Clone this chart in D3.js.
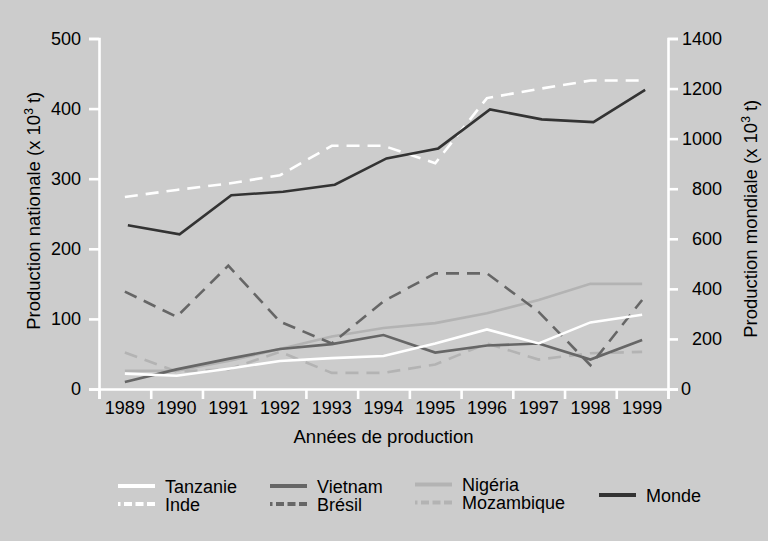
<!DOCTYPE html>
<html>
<head>
<meta charset="utf-8">
<script src="https://cdn.jsdelivr.net/npm/d3@7"></script>
<style>
  html, body { margin: 0; padding: 0; background: #cccccc; }
  svg { display: block; }
  text { font-family: "Liberation Sans", Arial, sans-serif; fill: #000; }
</style>
</head>
<body>
<svg id="chart"></svg>
<script>
// Chart size
const width = 768, height = 541;

// Data (x 10^3 t)
const years = ["1989", "1990", "1991", "1992", "1993", "1994", "1995", "1996", "1997", "1998", "1999"];
const tanzanie = [22, 19, 29, 40, 44, 47, 65, 85, 65, 95, 106];
const inde = [274, 284, 293, 305, 347, 347, 322, 415, 428, 440, 440];
const vietnam = [10, 28, 43, 57, 64, 77, 52, 62, 65, 42, 70];
const bresil = [139, 103, 176, 96, 65, 125, 165, 165, 110, 34, 127];
const nigeria = [26, 26, 40, 57, 75, 87, 94, 108, 127, 150, 150];
const mozambique = [52, 25, 28, 53, 23, 23, 35, 65, 42, 51, 53];
const monde = [654, 618, 774, 788, 816, 921, 961, 1117, 1077, 1066, 1195]; // right axis

const leftTicks = [0, 100, 200, 300, 400, 500];
const rightTicks = [0, 200, 400, 600, 800, 1000, 1200, 1400];

// Series table (drawing order)
const series = [
    { name: "Nigéria", values: nigeria, axis: "left", color: "#b3b3b3", dashed: false },
    { name: "Mozambique", values: mozambique, axis: "left", color: "#b3b3b3", dashed: true },
    { name: "Vietnam", values: vietnam, axis: "left", color: "#666666", dashed: false },
    { name: "Brésil", values: bresil, axis: "left", color: "#666666", dashed: true },
    { name: "Tanzanie", values: tanzanie, axis: "left", color: "#ffffff", dashed: false },
    { name: "Inde", values: inde, axis: "left", color: "#ffffff", dashed: true },
    { name: "Monde", values: monde, axis: "right", color: "#333333", dashed: false }
];

// Legend columns (names only)
const legendColumns = [["Tanzanie", "Inde"], ["Vietnam", "Brésil"], ["Nigéria", "Mozambique"], ["Monde"]];

const plotLeft = 99, plotRight = 668, plotTop = 38.5, plotBottom = 389;

const svg = d3.select("#chart")
    .attr("width", width)
    .attr("height", height);

svg.append("rect")
    .attr("width", width)
    .attr("height", height)
    .attr("fill", "#cccccc");

// Scales
const x = d3.scaleBand().domain(years).range([plotLeft, plotRight]);
const x2 = d3.scaleBand().domain(years).range([plotLeft + 3, plotRight + 3]); // world series sits a bit to the right
const xEdges = d3.scaleLinear().domain([0, years.length]).range([plotLeft, plotRight]);
const yL = d3.scaleLinear().domain([0, 500]).range([plotBottom, plotTop]);
const yR = d3.scaleLinear().domain([0, 1400]).range([plotBottom, plotTop]);

function styleAxis(g) {
    g.selectAll("path, line")
        .attr("stroke", "#ffffff")
        .attr("stroke-width", 2.6);
    g.selectAll("text")
        .attr("font-size", 18)
        .attr("fill", "#000");
}

// Left axis
svg.append("g")
    .attr("transform", `translate(${plotLeft},0)`)
    .call(d3.axisLeft(yL).tickValues(leftTicks).tickSize(10).tickPadding(8).tickFormat(d3.format("d")))
    .call(styleAxis);

// Right axis
const rightAxis = svg.append("g")
    .attr("transform", `translate(${plotRight},0)`)
    .call(d3.axisRight(yR).tickValues(rightTicks).tickSize(10).tickPadding(5).tickFormat(d3.format("d")))
    .call(styleAxis);
rightAxis.selectAll(".tick text")
    .attr("text-anchor", d => d === 0 ? "start" : "end")
    .attr("x", d => d === 0 ? 13 : 54);

// Bottom axis: ticks between the years, labels centered in each band
svg.append("g")
    .attr("transform", `translate(0,${plotBottom})`)
    .call(d3.axisBottom(xEdges).tickValues(d3.range(years.length + 1)).tickSize(10).tickFormat(""))
    .call(styleAxis);

svg.append("g")
    .attr("transform", `translate(0,${plotBottom})`)
    .call(d3.axisBottom(x).tickSize(0).tickPadding(12))
    .call(g => g.select(".domain").remove())
    .call(styleAxis);

// Axis titles
const leftTitle = svg.append("text")
    .attr("transform", `translate(40,${(plotTop + plotBottom) / 2 - 3}) rotate(-90)`)
    .attr("text-anchor", "middle")
    .attr("font-size", 18.5);
leftTitle.append("tspan").text("Production nationale (x 10");
leftTitle.append("tspan").attr("font-size", 12).attr("dy", -7).text("3");
leftTitle.append("tspan").attr("dy", 7).text(" t)");

const rightTitle = svg.append("text")
    .attr("transform", `translate(757,${(plotTop + plotBottom) / 2 + 5}) rotate(-90)`)
    .attr("text-anchor", "middle")
    .attr("font-size", 18.5);
rightTitle.append("tspan").text("Production mondiale (x 10");
rightTitle.append("tspan").attr("font-size", 12).attr("dy", -7).text("3");
rightTitle.append("tspan").attr("dy", 7).text(" t)");

svg.append("text")
    .attr("x", (plotLeft + plotRight) / 2)
    .attr("y", 443)
    .attr("text-anchor", "middle")
    .attr("font-size", 18.5)
    .text("Années de production");

// Lines
series.forEach(s => {
    const xs = s.axis === "right" ? x2 : x;
    const ys = s.axis === "right" ? yR : yL;
    const line = d3.line()
        .x((d, i) => xs(years[i]) + xs.bandwidth() / 2)
        .y(d => ys(d));
    svg.append("path")
        .datum(s.values)
        .attr("d", line)
        .attr("fill", "none")
        .attr("stroke", s.color)
        .attr("stroke-width", 2.6)
        .attr("stroke-linejoin", "miter")
        .attr("stroke-dasharray", s.dashed ? "13,8" : null);
});

// Legend
const legendX = [118, 270, 415, 599];
const legendRowY = [486, 504];
const legend = svg.append("g");
legendColumns.forEach((col, ci) => {
    col.forEach((name, ri) => {
        const s = series.find(d => d.name === name);
        let ly = col.length === 1 ? (legendRowY[0] + legendRowY[1]) / 2 : legendRowY[ri];
        if (ci === 2) ly -= 1.5;
        legend.append("line")
            .attr("x1", legendX[ci])
            .attr("x2", legendX[ci] + 37)
            .attr("y1", ly)
            .attr("y2", ly)
            .attr("stroke", s.color)
            .attr("stroke-width", 4)
            .attr("stroke-dasharray", s.dashed ? "8,3.5" : null)
            .attr("stroke-dashoffset", s.dashed ? 5.5 : null);
        legend.append("text")
            .attr("x", legendX[ci] + 47)
            .attr("y", ly + 6.5)
            .attr("font-size", 18)
            .text(name);
    });
});
</script>
</body>
</html>
